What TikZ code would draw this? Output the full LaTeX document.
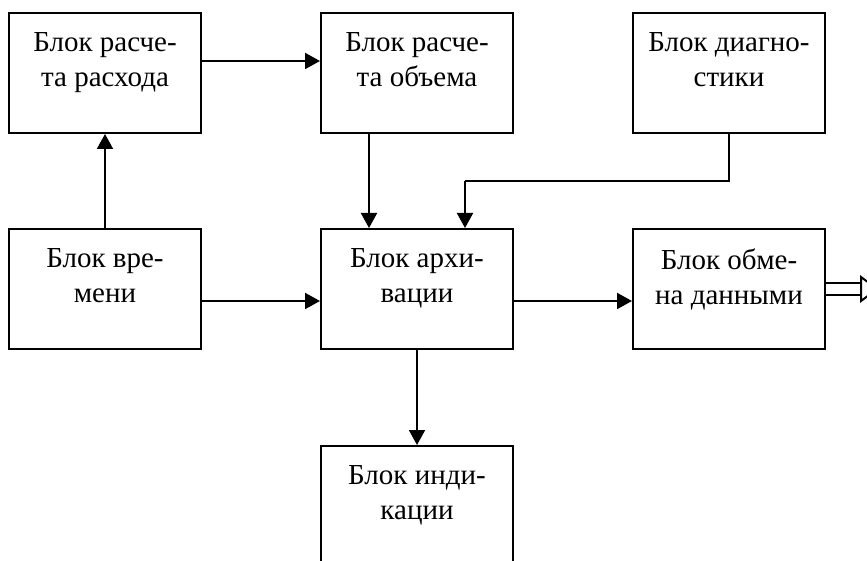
\documentclass[tikz,border=0pt]{standalone}
\usepackage{fontspec}
\setmainfont{Liberation Serif}
\usetikzlibrary{arrows.meta}
\begin{document}
\begin{tikzpicture}[x=0.5pt,y=-0.5pt,line width=1pt,
    blk/.style={draw,minimum width=96pt,minimum height=60pt,inner sep=0pt},
    lbl/.style={anchor=north,yshift=-10pt,inner sep=0pt,align=center,
      font=\fontsize{14.5}{17.5}\selectfont}]

      \useasboundingbox (0,0) rectangle (867,561);

      \node[blk,label={[lbl]north:Блок расче-\\та расхода}] (rash) at (105,73) {};
      \node[blk,label={[lbl]north:Блок расче-\\та объема}] (obem) at (417,73) {};
      \node[blk,label={[lbl]north:Блок диагно-\\стики}] (diag) at (729,73) {};
      \node[blk,label={[lbl]north:Блок вре-\\мени}] (vrem) at (105,289) {};
      \node[blk,label={[lbl]north:Блок архи-\\вации}] (arkh) at (417,289) {};
      \node[blk,label={[lbl]north:Блок обме-\\на данными}] (obmen) at (729,289) {};
      \node[blk,label={[lbl]north:Блок инди-\\кации}] (indik) at (417,506) {};

      \coordinate (turn) at (465,181);
      \coordinate (out) at (861,289);

      \begin{scope}[every edge/.style={draw,-{Triangle[length=7.5pt,width=8pt]}}]
        \path ([yshift=6pt]rash.east) edge ([yshift=6pt]obem.west);
        \path (vrem.north) edge (rash.south);
        \path ([xshift=-24pt]obem.south) edge ([xshift=-24pt]arkh.north);
        \path ([yshift=-6pt]vrem.east) edge ([yshift=-6pt]arkh.west);
        \path ([yshift=-6pt]arkh.east) edge ([yshift=-6pt]obmen.west);
        \path (arkh.south) edge (indik.north);
        \draw (diag.south) |- (turn);
        \path (turn) edge (turn |- arkh.north);
      \end{scope}

      % output to the right
      \draw ([yshift=3pt]obmen.east) -- ([yshift=3pt]out);
      \draw ([yshift=-3pt]obmen.east) -- ([yshift=-3pt]out);
      \draw[fill=white] ([yshift=6pt]out) -- ++(8pt,-6pt) -- ([yshift=-6pt]out) -- cycle;

    \end{tikzpicture}
\end{document}
